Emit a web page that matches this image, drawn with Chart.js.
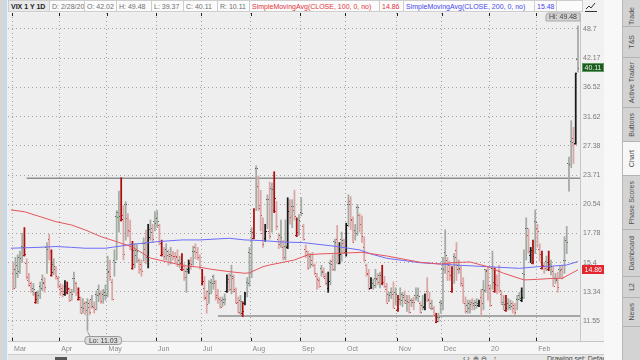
<!DOCTYPE html>
<html>
<head>
<meta charset="utf-8">
<title>VIX 1 Y 1D</title>
<script src="https://cdn.jsdelivr.net/npm/chart.js@4.4.1/dist/chart.umd.min.js"></script>
<style>
  html, body { margin: 0; padding: 0; background: #f1f1f1; overflow: hidden; }
  #page { position: relative; width: 640px; height: 360px; font-family: "Liberation Sans", Arial, sans-serif; font-size: 7px; }
  #chart { position: absolute; left: 0; top: 0; }
  #leftbar { position: absolute; left: 0; top: 0; width: 5px; height: 360px; background: #d6d6d6; border-right: 2px solid #bddcf2; }
  #header { position: absolute; left: 8px; top: 0; height: 12px; display: flex; }
  #header span { box-sizing: border-box; display: block; height: 12px; line-height: 11px; padding-left: 2px; border: 1px solid #cdcdcd; border-left: none; background: #fbfbfb; color: #707070; white-space: nowrap; overflow: hidden; }
  #header span.sym { border-left: 1px solid #cdcdcd; background: #e9e9e9; color: #222; font-weight: bold; }
  #header span.red { color: #e2343c; }
  #header span.blue { color: #4747f0; }
  #icon { position: absolute; left: 585px; top: 2px; }
  #side { position: absolute; left: 604px; top: 0; width: 18px; height: 360px; background: #f8f8f8; }
  #tabs { position: absolute; left: 622px; top: 0; width: 18px; height: 360px; background: #d3d3d3; border-left: 1px solid #b8b8b8; box-sizing: border-box; }
  .tab { position: absolute; left: 0; width: 17px; box-sizing: border-box; border-bottom: 1px solid #b3b3b3; display: flex; align-items: center; justify-content: center; color: #505050; }
  .tab span { writing-mode: vertical-rl; transform: rotate(180deg); white-space: nowrap; }
  .tab.sel { background: #f7f7f7; }
  #toolbar { position: absolute; left: 8px; top: 354px; width: 596px; height: 6px; background: #e7e7e7; border-top: 1px solid #cbcbcb; box-sizing: border-box; color: #444; overflow: hidden; }
  #toolbar .box { position: absolute; left: 47px; top: 2px; width: 12px; height: 6px; background: #555; }
  #toolbar .nav { position: absolute; left: 455px; top: 0; line-height: 7px; }
  #toolbar .set { position: absolute; left: 539px; top: 0; line-height: 7px; white-space: nowrap; }
</style>
</head>
<body>
<div id="page">
  <canvas id="chart" width="640" height="360"></canvas>
  <div id="leftbar"></div>
  <div id="header">
    <span class="sym" style="width:42px">VIX 1 Y 1D</span>
    <span style="width:35px">D: 2/28/20</span>
    <span style="width:32px">O: 42.02</span>
    <span style="width:35px">H: 49.48</span>
    <span style="width:32px">L: 39.37</span>
    <span style="width:34px">C: 40.11</span>
    <span style="width:32px">R: 10.11</span>
    <span class="red" style="width:130px">SimpleMovingAvg(CLOSE, 100, 0, no)</span>
    <span class="red" style="width:24px">14.86</span>
    <span class="blue" style="width:131px">SimpleMovingAvg(CLOSE, 200, 0, no)</span>
    <span class="blue" style="width:22px">15.48</span>
    <span style="width:26px"></span>
  </div>
  <svg id="icon" width="12" height="10" viewBox="0 0 12 10">
    <polyline points="1,7 4,4 6,6 10,1" fill="none" stroke="#333" stroke-width="1"/>
    <line x1="0" y1="9.5" x2="12" y2="9.5" stroke="#333" stroke-width="1"/>
  </svg>
  <div id="side"></div>
  <div id="tabs">
    <div class="tab" style="top:-20px;height:47px;justify-content:flex-end;padding-bottom:1px;flex-direction:column"><span>Trade</span></div>
    <div class="tab" style="top:27px;height:31px"><span>T&amp;S</span></div>
    <div class="tab" style="top:58px;height:50px"><span>Active Trader</span></div>
    <div class="tab" style="top:108px;height:34px"><span>Buttons</span></div>
    <div class="tab sel" style="top:142px;height:34px"><span>Chart</span></div>
    <div class="tab" style="top:176px;height:54px"><span>Phase Scores</span></div>
    <div class="tab" style="top:230px;height:47px"><span>Dashboard</span></div>
    <div class="tab" style="top:277px;height:21px"><span>L2</span></div>
    <div class="tab" style="top:298px;height:29px"><span>News</span></div>
  </div>
  <div id="toolbar">
    <div class="box"></div>
    <div class="nav">&lsaquo; &rsaquo; &nbsp;&#8853; &#8854; &nbsp; &#8597;</div>
    <div class="set">Drawing set: Default</div>
  </div>
</div>
<script>
// daily bars, 3/1/19 .. 2/28/20 (one line per month)
var opens = [
  14.6, 14.9, 15.2, 15.8, 16.7, 15.95, 15.4, 14.1, 13.9, 13.6, 12.7, 13.3, 13.7, 14.2, 14.0, 16.6, 17.3, 14.5, 15.3, 14.9, 14.3,
  13.5, 13.6, 13.2, 13.3, 13.5, 13.3, 14.3, 13.9, 12.9, 12.9, 12.4, 12.6, 12.7, 12.4, 12.9, 12.4, 13.2, 13.5, 13.2, 13.2, 13.3,
  14.9, 14.7, 14.0, 15.6, 19.4, 19.8, 19.0, 19.5, 20.6, 19.2, 18.0, 15.0, 16.4, 16.4, 15.6, 15.3, 17.0, 16.5, 15.9, 18.2, 18.3, 18.9,
  19.2, 18.5, 16.0, 16.2, 16.5, 16.0, 16.1, 16.0, 15.9, 15.9, 15.6, 14.9, 14.9, 14.8, 14.9, 15.5, 16.3, 16.6, 16.2, 15.8,
  13.9, 13.6, 13.0, 13.4, 14.0, 14.4, 13.9, 13.1, 12.9, 12.8, 12.9, 13.4, 14.2, 14.5, 14.3, 13.4, 12.7, 12.8, 12.0, 12.6, 14.0, 16.2,
  18.0, 17.4, 24.6, 22.5, 20.5, 17.8, 17.4, 21.1, 18.0, 22.2, 20.0, 19.9, 17.3, 17.6, 16.6, 16.7, 16.6, 20.2, 20.4, 20.0, 17.6, 19.1,
  19.8, 18.4, 16.5, 16.0, 15.9, 15.6, 15.2, 14.4, 14.1, 15.0, 14.8, 14.3, 13.6, 15.4, 15.5, 17.1, 17.3, 15.4, 17.3, 17.0,
  16.3, 20.6, 20.9, 19.0, 18.1, 20.3, 19.5, 18.6, 16.6, 15.2, 14.6, 13.6, 13.9, 14.3, 14.2, 14.5, 13.9, 14.0, 13.5, 13.2, 13.3, 13.2, 13.3,
  12.2, 12.9, 13.2, 13.0, 12.8, 12.7, 12.8, 12.8, 13.1, 13.1, 12.6, 12.5, 12.4, 13.4, 12.9, 12.6, 12.3, 11.5, 11.8, 12.7,
  15.0, 16.2, 15.6, 15.2, 13.4, 15.9, 16.4, 15.2, 14.9, 13.8, 12.6, 12.5, 12.6, 12.7, 12.6, 12.7, 12.5, 13.0, 13.5, 14.9, 14.8,
  13.6, 15.0, 13.4, 14.3, 14.8, 13.2, 12.7, 12.2, 12.6, 12.5, 12.6, 12.5, 12.9, 13.1, 12.8, 14.6, 18.3, 17.6, 16.0, 15.35, 18.9,
  18.3, 16.5, 15.0, 15.2, 15.5, 14.9, 15.3, 14.8, 14.3, 14.2, 14.9, 14.9, 15.6, 17.2, 25.1, 28.0, 28.5, 27.8, 42.02
];
var highs = [
  15.4, 15.8, 16.0, 16.3, 17.8, 18.3, 15.7, 14.6, 14.0, 13.9, 13.3, 13.4, 14.0, 14.5, 14.3, 17.0, 17.7, 16.4, 15.7, 15.1, 14.4,
  13.9, 13.8, 14.1, 14.0, 13.6, 13.5, 14.7, 14.0, 13.6, 13.0, 12.9, 12.7, 12.9, 12.8, 13.1, 12.7, 13.4, 13.8, 13.4, 13.5, 13.8,
  15.9, 15.6, 14.2, 16.4, 19.9, 21.9, 23.4, 20.4, 20.8, 19.6, 19.0, 17.1, 16.9, 16.8, 15.7, 15.6, 17.4, 18.1, 18.6, 19.0, 18.6, 19.8,
  19.9, 18.6, 17.2, 16.6, 16.9, 16.4, 16.6, 16.3, 16.2, 16.4, 15.9, 16.1, 15.3, 15.0, 15.6, 15.8, 16.7, 16.9, 16.6, 16.0,
  14.9, 14.4, 13.4, 14.1, 14.2, 14.5, 14.1, 13.5, 13.0, 13.0, 13.2, 14.5, 14.6, 15.2, 14.5, 13.6, 13.0, 13.1, 12.7, 13.3, 14.3, 16.6,
  18.3, 20.1, 24.8, 23.6, 22.0, 19.2, 18.6, 21.5, 22.9, 22.8, 24.1, 20.8, 17.8, 19.0, 17.2, 19.0, 21.2, 21.0, 21.0, 22.0, 19.2, 19.5,
  21.2, 18.6, 16.8, 16.3, 16.1, 16.2, 15.3, 14.6, 14.3, 15.2, 15.0, 14.6, 14.7, 15.6, 16.0, 17.3, 18.5, 17.0, 17.9, 17.3,
  18.7, 21.5, 21.3, 19.3, 18.6, 20.5, 19.6, 19.4, 17.5, 15.3, 14.9, 14.3, 14.2, 14.9, 14.6, 14.7, 15.2, 14.4, 13.9, 13.3, 13.6, 14.0, 13.6,
  13.1, 13.6, 13.3, 13.4, 13.1, 13.1, 12.9, 13.0, 13.6, 13.6, 12.7, 13.1, 13.2, 14.3, 13.3, 12.8, 12.4, 12.0, 12.0, 12.8,
  15.8, 18.1, 15.8, 15.5, 15.1, 16.1, 17.0, 15.6, 15.2, 14.3, 13.0, 12.8, 12.8, 12.9, 12.8, 12.9, 12.8, 13.5, 14.1, 14.9, 15.1,
  13.8, 16.3, 15.0, 14.5, 15.2, 13.4, 13.1, 13.1, 12.9, 12.8, 12.7, 12.6, 13.1, 13.3, 13.6, 16.4, 19.2, 18.2, 16.6, 17.2, 19.96,
  18.6, 16.9, 16.3, 15.4, 15.9, 16.3, 15.6, 15.1, 14.6, 14.7, 15.1, 15.2, 17.5, 18.4, 25.9, 31.0, 30.0, 39.2, 49.48
];
var lows = [
  13.5, 13.6, 14.3, 14.6, 15.4, 15.9, 14.2, 13.7, 13.3, 13.1, 12.6, 12.6, 12.9, 13.4, 13.3, 14.6, 15.6, 14.4, 14.5, 14.2, 13.6,
  13.1, 13.0, 13.1, 13.2, 12.7, 12.8, 13.3, 13.1, 12.8, 12.0, 12.0, 11.9, 11.03, 11.9, 12.3, 12.0, 12.2, 12.7, 12.6, 12.6, 12.8,
  13.0, 14.1, 12.8, 14.4, 15.6, 17.9, 18.9, 15.6, 17.2, 17.5, 16.4, 14.9, 15.0, 15.4, 14.6, 14.4, 15.5, 15.3, 15.0, 17.2, 17.0, 18.0,
  18.3, 16.8, 15.9, 15.6, 15.6, 15.2, 15.3, 15.6, 15.4, 15.1, 15.0, 14.8, 14.1, 13.3, 14.6, 14.9, 15.2, 15.7, 15.6, 14.9,
  13.8, 12.8, 12.0, 12.6, 13.2, 13.5, 12.8, 12.6, 12.3, 12.4, 12.5, 13.3, 13.4, 13.2, 13.3, 12.6, 12.0, 11.8, 11.8, 12.5, 13.0, 13.7,
  14.3, 17.3, 19.9, 19.9, 18.0, 16.6, 17.1, 18.2, 17.3, 17.9, 19.7, 18.1, 16.5, 16.6, 15.6, 15.6, 16.5, 18.6, 18.3, 19.0, 17.5, 17.6,
  19.4, 17.2, 15.8, 14.9, 15.0, 15.1, 14.5, 13.5, 13.6, 14.4, 14.3, 13.8, 13.3, 13.8, 14.8, 14.8, 15.3, 15.3, 15.5, 16.1,
  15.9, 18.4, 18.1, 17.0, 17.2, 17.6, 17.9, 17.0, 15.5, 14.4, 13.5, 13.55, 13.5, 13.6, 13.8, 13.6, 13.8, 13.6, 12.6, 12.7, 12.9, 12.3, 12.5,
  12.1, 12.5, 12.4, 12.6, 12.1, 12.0, 12.4, 12.2, 12.8, 12.7, 12.0, 12.2, 12.2, 12.7, 12.3, 12.2, 11.8, 11.45, 11.5, 12.0,
  12.2, 14.6, 14.1, 14.1, 13.3, 13.9, 14.1, 14.6, 13.7, 12.6, 12.0, 12.0, 12.0, 12.2, 12.2, 12.3, 12.4, 11.85, 12.2, 13.3, 12.8,
  12.4, 13.5, 13.3, 13.2, 13.3, 12.5, 12.2, 12.1, 12.2, 12.2, 12.0, 11.9, 12.2, 12.8, 12.7, 12.9, 15.6, 16.1, 15.4, 15.3, 16.1,
  16.6, 15.5, 14.9, 14.6, 14.8, 14.8, 14.5, 13.7, 13.9, 13.3, 14.3, 14.2, 14.6, 16.1, 21.9, 24.6, 25.1, 27.6, 39.37
];
var closes = [
  13.57, 14.63, 14.74, 15.74, 16.59, 16.05, 14.33, 13.77, 13.41, 13.50, 12.88, 13.10, 13.56, 13.91, 13.63, 16.48, 16.33, 14.68, 15.15, 14.43, 13.71,
  13.40, 13.36, 13.74, 13.58, 12.82, 13.18, 14.28, 13.30, 13.02, 12.01, 12.32, 12.18, 12.60, 12.09, 12.42, 12.28, 13.14, 13.25, 12.73, 13.11, 13.12,
  14.80, 14.42, 12.87, 15.44, 19.32, 19.40, 19.10, 16.04, 20.55, 18.06, 16.44, 15.29, 15.96, 16.31, 14.95, 14.75, 16.92, 15.85, 17.50, 17.90, 17.30, 18.71,
  18.86, 16.97, 16.09, 15.93, 16.30, 15.94, 15.99, 15.91, 15.82, 15.28, 15.35, 15.15, 14.33, 14.75, 15.40, 15.26, 16.28, 16.21, 15.82, 15.08,
  14.06, 12.93, 12.57, 13.28, 13.96, 14.09, 13.03, 12.93, 12.39, 12.68, 12.86, 13.97, 13.53, 14.45, 13.53, 12.61, 12.07, 12.74, 12.16, 13.24, 13.94, 16.12,
  17.87, 17.61, 24.59, 20.17, 19.49, 16.91, 17.97, 21.09, 17.52, 22.10, 21.18, 18.47, 16.88, 17.50, 15.80, 16.68, 19.87, 19.32, 20.31, 19.35, 17.88, 18.98,
  19.66, 17.33, 16.27, 15.00, 15.27, 15.20, 14.61, 14.22, 13.74, 14.67, 14.44, 13.95, 14.05, 15.32, 14.91, 17.05, 15.96, 16.07, 17.22, 16.24,
  18.56, 20.56, 19.12, 17.04, 17.86, 20.28, 18.64, 17.57, 15.58, 14.57, 13.54, 13.68, 13.79, 14.25, 14.00, 14.46, 14.01, 13.71, 12.65, 13.11, 13.20, 12.33, 13.22,
  12.30, 12.83, 13.10, 12.62, 12.73, 12.07, 12.69, 12.68, 13.00, 13.05, 12.05, 12.46, 12.86, 12.78, 12.34, 12.34, 11.87, 11.54, 11.75, 12.62,
  14.91, 15.96, 14.80, 14.52, 13.62, 15.86, 14.91, 14.99, 13.94, 12.63, 12.14, 12.29, 12.58, 12.50, 12.51, 12.61, 12.67, 12.65, 13.43, 14.82, 13.78,
  12.47, 14.02, 13.85, 13.79, 13.45, 12.54, 12.56, 12.32, 12.39, 12.42, 12.32, 12.10, 12.85, 12.91, 12.98, 14.56, 18.23, 16.28, 16.39, 15.49, 18.84,
  17.97, 16.05, 15.15, 14.96, 15.47, 15.04, 15.18, 13.74, 14.15, 13.68, 14.83, 14.38, 15.56, 17.08, 25.03, 27.85, 27.56, 39.16, 40.11
];

// moving averages (bar index -> value)
var sma100Idx = [-1, 5, 19, 26, 32, 39, 46, 53, 61, 68, 76, 83, 88, 96, 103, 105, 111, 114, 119, 125, 131, 136, 151, 155, 166, 181, 190, 196, 203, 211, 218, 227, 233, 240, 244, 251];
var sma100 = [19.96, 19.79, 18.84, 18.53, 18.09, 17.50, 17.07, 16.63, 15.75, 15.47, 15.16, 15.05, 14.90, 14.73, 14.61, 14.65, 15.09, 15.22, 15.39, 15.60, 16.0, 16.07, 16.17, 16.2, 15.91, 15.42, 15.29, 15.40, 15.45, 15.09, 14.61, 14.14, 14.18, 14.25, 14.25, 14.86];
var sma200Idx = [-1, 11, 19, 26, 32, 41, 53, 64, 75, 83, 96, 103, 111, 119, 129, 144, 154, 159, 166, 181, 190, 196, 203, 211, 225, 233, 240, 246, 251];
var sma200 = [16.53, 16.6, 16.67, 16.6, 16.53, 16.53, 16.85, 17.07, 17.22, 17.22, 17.36, 17.22, 17.16, 17.05, 16.99, 16.67, 16.39, 16.07, 15.73, 15.39, 15.29, 15.22, 15.16, 15.09, 14.97, 15.09, 15.14, 15.22, 15.48];

// drawn horizontal lines
var upperLevel = 23.33, upperFrom = 6;
var lowerLevel = 11.84, lowerFrom = 91;

var monthLabels = ['Mar', 'Apr', 'May', 'Jun', 'Jul', 'Aug', 'Sep', 'Oct', 'Nov', 'Dec', '20', 'Feb'];
var monthStart = [0, 21, 42, 64, 84, 106, 128, 148, 171, 191, 212, 233];
var priceTicks = [11.55, 13.34, 15.4, 17.78, 20.54, 23.71, 27.38, 31.62, 36.52, 42.17, 48.7];

var last = closes.length - 1;

// gray = up vs previous close, red = down; dark when close above open
var barColors = [], dotColors = [];
closes.forEach(function (c, i) {
    var prev = i ? closes[i - 1] : opens[0];
    var up = c >= prev;
    var dark = c > opens[i];
    if (up) {
        barColors.push(dark ? '#1a1a1a' : '#a3aba3');
        dotColors.push(dark ? '#1a1a1a' : '#5e645e');
    } else {
        barColors.push(dark ? '#ad0d0d' : '#dba6a6');
        dotColors.push(dark ? '#ad0d0d' : '#cc4a4a');
    }
});

Chart.defaults.font.family = '"Liberation Sans", Arial, sans-serif';
Chart.defaults.font.size = 7;
Chart.defaults.color = '#7c7c7c';

var chrome = {
    id: 'chrome',
    beforeDraw: function (chart) {
        var ctx = chart.ctx, a = chart.chartArea;
        ctx.save();
        ctx.fillStyle = '#f1f1f1';
        ctx.fillRect(0, 0, chart.width, chart.height);
        ctx.fillStyle = '#eeeeee';
        ctx.fillRect(a.left, a.top, a.right - a.left, a.bottom - a.top);
        ctx.fillStyle = '#f6f6f6';
        ctx.fillRect(a.left, a.bottom, chart.width - a.left, chart.height - a.bottom);
        ctx.fillStyle = '#c6c6c6';
        ctx.fillRect(a.right, a.top, 1, a.bottom - a.top);
        ctx.fillRect(a.left, a.bottom, chart.width - a.left, 1);
        ctx.restore();
    },
    afterDatasetsDraw: function (chart) {
        var ctx = chart.ctx, a = chart.chartArea, xs = chart.scales.x, ys = chart.scales.y;
        ctx.save();
        ctx.beginPath();
        ctx.rect(a.left, a.top, a.right - a.left, a.bottom - a.top);
        ctx.clip();
        // open / close ticks
        closes.forEach(function (c, i) {
            var px = Math.floor(xs.getPixelForValue(i));
            ctx.fillStyle = dotColors[i];
            ctx.fillRect(px - 1, Math.round(ys.getPixelForValue(opens[i])), 1, 1);
            ctx.fillRect(px + 1, Math.round(ys.getPixelForValue(c)), 1, 1);
        });
        ctx.restore();
        // month marks at top and bottom
        ctx.save();
        ctx.fillStyle = '#222';
        monthStart.forEach(function (m) {
            var px = Math.round(xs.getPixelForValue(m - 0.5));
            ctx.fillRect(px, a.top, 1, 3);
            ctx.fillRect(px, a.bottom - 3, 1, 3);
        });
        ctx.restore();
    },
    afterDraw: function (chart) {
        var ctx = chart.ctx, a = chart.chartArea, xs = chart.scales.x, ys = chart.scales.y;
        ctx.save();
        ctx.font = '7px "Liberation Sans", Arial, sans-serif';
        ctx.textBaseline = 'middle';
        ctx.lineWidth = 1;

        // Hi bubble
        var hiIdx = highs.indexOf(Math.max.apply(null, highs));
        var hiText = 'Hi: ' + highs[hiIdx].toFixed(2);
        var hw = ctx.measureText(hiText).width + 6;
        ctx.fillStyle = '#d4d4d4';
        ctx.strokeStyle = '#a9a9a9';
        ctx.beginPath();
        ctx.roundRect(a.right - hw, a.top, hw, 8, [3, 0, 0, 0]);
        ctx.fill();
        ctx.stroke();
        ctx.fillStyle = '#3c3c3c';
        ctx.fillText(hiText, a.right - hw + 3, a.top + 4.5);

        // Lo bubble
        var loIdx = lows.indexOf(Math.min.apply(null, lows));
        var lx = xs.getPixelForValue(loIdx), ly = ys.getPixelForValue(lows[loIdx]);
        var loText = 'Lo: ' + lows[loIdx].toFixed(2);
        var lw = ctx.measureText(loText).width + 8;
        ctx.strokeStyle = '#9a9a9a';
        ctx.beginPath();
        ctx.moveTo(lx, ly + 1);
        ctx.lineTo(lx + 3, a.bottom - 4);
        ctx.stroke();
        ctx.fillStyle = '#dcdcdc';
        ctx.beginPath();
        ctx.roundRect(lx - 2.5, a.bottom - 4.5, lw, 8, 3);
        ctx.fill();
        ctx.stroke();
        ctx.fillStyle = '#3c3c3c';
        ctx.fillText(loText, lx + 1.5, a.bottom - 0.2);

        // price tags on the axis
        function tag(v, bg, border, fg) {
            var py = Math.round(ys.getPixelForValue(v));
            ctx.fillStyle = bg;
            ctx.strokeStyle = border;
            ctx.fillRect(a.right + 2.5, py - 4.5, 21, 8);
            ctx.strokeRect(a.right + 2.5, py - 4.5, 21, 8);
            ctx.fillStyle = fg;
            ctx.fillText(v.toFixed(2), a.right + 4.5, py);
        }
        tag(closes[last], '#1d5a20', '#5d9a5d', '#e4f7e4');
        tag(sma100[sma100.length - 1], '#e3262e', '#e3262e', '#ffffff');
        ctx.restore();
    }
};

var ctx = document.getElementById('chart').getContext('2d');
var vixChart = new Chart(ctx, {
    type: 'bar',
    data: {
        datasets: [
            {
                type: 'line',
                data: sma100Idx.map(function (x, i) { return { x: x, y: sma100[i] }; }),
                borderColor: '#e6565e',
                borderWidth: 1,
                pointRadius: 0,
                order: 0
            },
            {
                type: 'line',
                data: sma200Idx.map(function (x, i) { return { x: x, y: sma200[i] }; }),
                borderColor: '#6d6dfb',
                borderWidth: 1,
                pointRadius: 0,
                order: 0
            },
            {
                type: 'line',
                data: [{ x: upperFrom, y: upperLevel }, { x: 252, y: upperLevel }],
                borderColor: '#8e8e8e',
                borderWidth: 1.4,
                pointRadius: 0,
                order: 2
            },
            {
                type: 'line',
                data: [{ x: lowerFrom, y: lowerLevel }, { x: 252, y: lowerLevel }],
                borderColor: '#8e8e8e',
                borderWidth: 1.4,
                pointRadius: 0,
                order: 2
            },
            {
                type: 'bar',
                data: highs.map(function (h, i) { return { x: i, y: [lows[i], h] }; }),
                backgroundColor: barColors,
                barThickness: 1.1,
                borderWidth: 0,
                grouped: false,
                order: 1
            }
        ]
    },
    options: {
        responsive: false,
        animation: false,
        events: [],
        layout: { padding: { left: 8, top: 13, right: 0, bottom: 0 } },
        plugins: { legend: { display: false }, tooltip: { enabled: false } },
        scales: {
            x: {
                type: 'linear',
                min: -2.3,
                max: 251.9,
                offset: false,
                afterBuildTicks: function (axis) {
                    axis.ticks = monthStart.map(function (m) { return { value: m - 0.5 }; });
                },
                afterFit: function (axis) { axis.height = 19; },
                grid: { offset: false, color: '#a2a2a2', drawTicks: false },
                border: { display: false, dash: [1, 3] },
                ticks: {
                    autoSkip: false,
                    maxRotation: 0,
                    align: 'start',
                    labelOffset: 2,
                    padding: 4,
                    color: '#8a8a8a',
                    callback: function (v, i) { return monthLabels[i]; }
                }
            },
            y: {
                type: 'logarithmic',
                position: 'right',
                min: 10.465,
                max: 52.68,
                afterBuildTicks: function (axis) {
                    axis.ticks = priceTicks.map(function (v) { return { value: v }; });
                },
                afterFit: function (axis) { axis.width = 60; },
                grid: { color: '#a2a2a2', drawTicks: false },
                border: { display: false, dash: [1, 3] },
                ticks: {
                    padding: 3,
                    color: '#7a7a7a',
                    callback: function (v) { return String(v); }
                }
            }
        }
    },
    plugins: [chrome]
});
</script>
</body>
</html>
